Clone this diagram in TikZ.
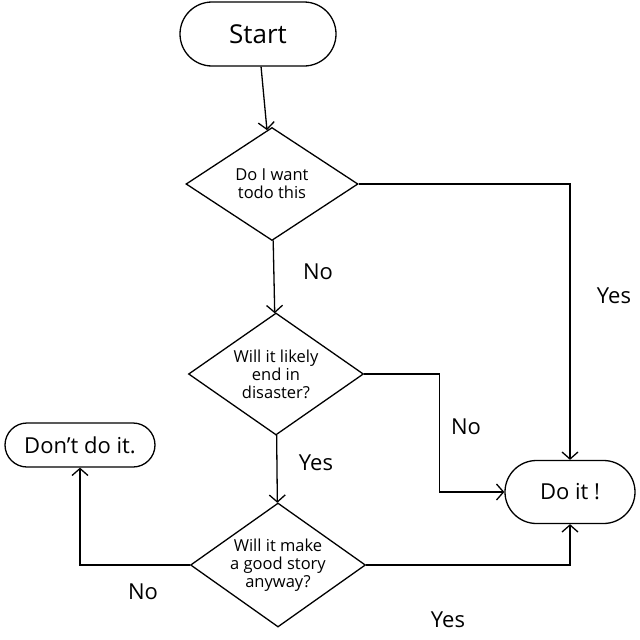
\documentclass[tikz,border=0pt]{standalone}
\usepackage{fontspec}
\setmainfont{Open Sans}
\usetikzlibrary{shapes.geometric,shapes.misc,arrows.meta}
\begin{document}
\begin{tikzpicture}[x=1pt,y=-1pt,
  every path/.style={line width=1.3pt},
  term/.style={draw,rounded rectangle,inner sep=0pt,font=\fontsize{22}{26}\selectfont},
  decision/.style={draw,diamond,inner sep=-20pt,shape aspect=1.5,align=center,font=\fontsize{16.5}{18}\selectfont},
  arr/.style={-{Straight Barb[length=7pt,width=16pt]}},
  lbl/.style={font=\fontsize{22}{26}\selectfont}]
\useasboundingbox (0,0) rectangle (640,640);
\node[term,minimum width=156pt,minimum height=64pt,font=\fontsize{26}{30}\selectfont] (start) at (258,34) {Start};
\node[decision,minimum width=172pt,minimum height=113pt] (d1) at (272,184) {Do I want\\todo this};
\node[decision,minimum width=175pt,minimum height=122pt] (d2) at (276,374) {Will it likely\\end in\\disaster?};
\node[decision,minimum width=175pt,minimum height=124pt] (d3) at (278,565) {Will it make\\a good story\\anyway?};
\node[term,minimum width=150pt,minimum height=44pt] (dont) at (80,445) {Don't do it.};
\node[term,minimum width=130pt,minimum height=63pt] (doit) at (570,492) {Do it !};
\draw[arr] (start) -- (d1);
\draw[arr] (d1) -- (d2);
\draw[arr] (d2) -- (d3);
\draw[arr] (d1.east) -| (doit.north);
\draw[arr] (d2.east) -- ([xshift=75pt]d2.east) |- (doit.west);
\draw[arr] (d3.east) -| (doit.south);
\draw[arr] (d3.west) -| (dont.south);
\node[lbl] (l1) at (318,272) {No};
\node[lbl] (l2) at (316,463) {Yes};
\node[lbl] (l3) at (614,296) {Yes};
\node[lbl] (l4) at (466,427) {No};
\node[lbl] (l5) at (448,620) {Yes};
\node[lbl] (l6) at (143,592) {No};
\end{tikzpicture}
\end{document}
